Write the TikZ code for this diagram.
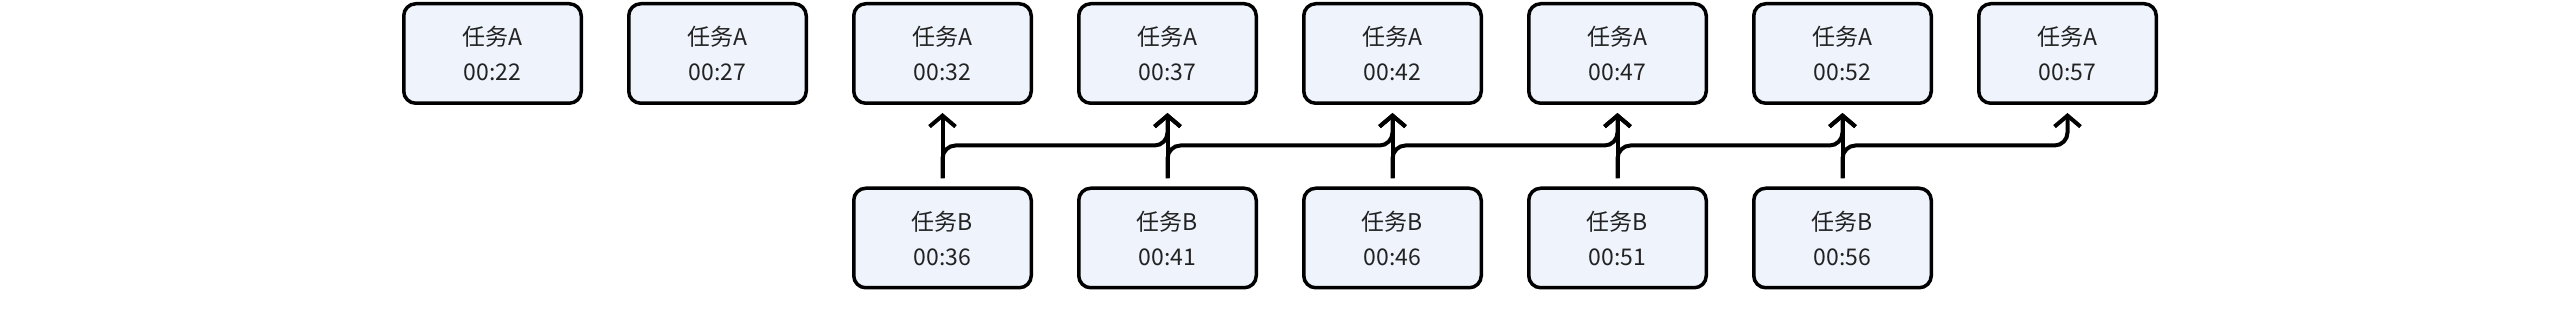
\documentclass[tikz,border=0pt]{standalone}
\usepackage{fontspec}
\setmainfont{Noto Sans CJK SC}
\usetikzlibrary{arrows.meta}
\definecolor{boxfill}{HTML}{EEF3FC}
\definecolor{txt}{HTML}{222222}
\tikzset{
  box/.style={draw=black, line width=3.5pt, fill=boxfill, rounded corners=12pt,
    minimum width=177.5pt, minimum height=99.5pt, align=center, text=txt,
    font=\fontsize{23}{35}\selectfont, inner sep=0pt},
  conn/.style={draw=black, line width=4pt, rounded corners=13pt,
    -{Straight Barb[length=11pt,width=26pt,line width=4pt]},
    shorten <=8pt, shorten >=8pt}
}
\begin{document}
\begin{tikzpicture}[x=1pt,y=-1pt]
\useasboundingbox (0,0) rectangle (2560,320);
\node[box] (A1) at (492.5,53.5) {任务A\\00:22};
\node[box] (A2) at (717.5,53.5) {任务A\\00:27};
\node[box] (A3) at (942.5,53.5) {任务A\\00:32};
\node[box] (A4) at (1167.5,53.5) {任务A\\00:37};
\node[box] (A5) at (1392.5,53.5) {任务A\\00:42};
\node[box] (A6) at (1617.5,53.5) {任务A\\00:47};
\node[box] (A7) at (1842.5,53.5) {任务A\\00:52};
\node[box] (A8) at (2067.5,53.5) {任务A\\00:57};
\node[box] (B1) at (942.5,238) {任务B\\00:36};
\node[box] (B2) at (1167.5,238) {任务B\\00:41};
\node[box] (B3) at (1392.5,238) {任务B\\00:46};
\node[box] (B4) at (1617.5,238) {任务B\\00:51};
\node[box] (B5) at (1842.5,238) {任务B\\00:56};
\foreach \b/\a/\n in {B1/A3/A4, B2/A4/A5, B3/A5/A6, B4/A6/A7, B5/A7/A8}{
  \draw[conn] (\b.north) -- (\a.south);
  \coordinate (h\b) at ([yshift=41pt]\b.north);
  \draw[conn] (\b.north) -- (h\b) -| (\n.south);
}
\end{tikzpicture}
\end{document}
